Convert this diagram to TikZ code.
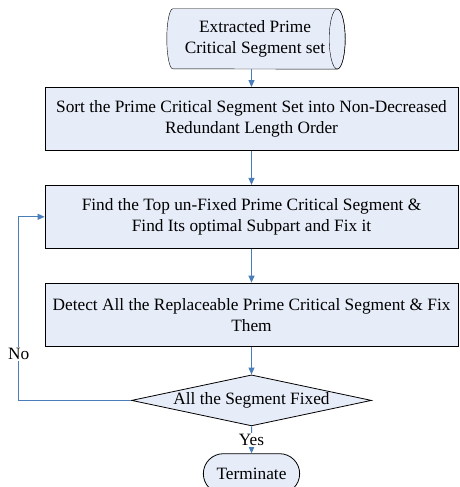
\documentclass[tikz,border=0pt]{standalone}
\usepackage{fontspec}
\setmainfont{Liberation Serif}
\usetikzlibrary{arrows.meta,positioning,shapes.geometric,shapes.misc,backgrounds}

\definecolor{boxfill}{RGB}{230,236,248}
\definecolor{flowblue}{RGB}{74,126,187}

\begin{document}
\begin{tikzpicture}[
                        x=1pt, y=1pt,
                        ->,
                        >={Triangle[length=7pt,width=6pt]},
                        node distance=34pt,
                        font=\fontsize{17.3}{21}\selectfont
                    ]
                    \tikzstyle{block}=[draw=black,fill=boxfill,line width=0.8pt,align=center,
                                       minimum width=413pt,minimum height=63pt,inner sep=0pt]
                    \tikzstyle{store}=[align=center,minimum width=164pt,minimum height=60pt,inner sep=0pt]
                    \tikzstyle{decide}=[diamond,draw=black,fill=boxfill,line width=0.8pt,aspect=4.7,
                                        minimum width=240pt,minimum height=51pt,inner sep=0pt]
                    \tikzstyle{stop}=[rounded rectangle,draw=black,fill=boxfill,line width=0.8pt,
                                      minimum width=103pt,minimum height=40pt]
                    \tikzstyle{flow}=[draw=flowblue,line width=1pt]
                    \tikzstyle{tag}=[fill=white,inner sep=1pt]

                    \clip (0,0) rectangle (459,-487);

                    \node[store]  (A) at (255,-39)      {Extracted Prime\\Critical Segment set} ;
                    \node[block]  (B) at (251.5,-119)   {Sort the Prime Critical Segment Set into Non-Decreased\\Redundant Length Order} ;
                    \node[block]  (C) [below=of B]      {Find the Top un-Fixed Prime Critical Segment \&\\Find Its optimal Subpart and Fix it} ;
                    \node[block]  (D) [below=of C]      {Detect All the Replaceable Prime Critical Segment \& Fix\\Them} ;
                    \node[decide] (E) [below=28pt of D] {All the Segment Fixed} ;
                    \node[stop]   (F) [below=27pt of E] {Terminate} ;

                    % storage drum behind the first node
                    \begin{scope}[on background layer,-,draw=black,line width=0.8pt]
                        \filldraw[fill=boxfill] (A.north east) -- (A.north west)
                            arc[start angle=90,end angle=270,x radius=6,y radius=30]
                            -- (A.south east)
                            arc[start angle=-90,end angle=90,x radius=8,y radius=30] -- cycle ;
                        \draw (A.east) ellipse[x radius=8,y radius=30] ;
                    \end{scope}

                    \path[every edge/.style={flow}]
                    (A.south -| B.north) edge (B)
                    (B) edge (C)
                    (C) edge (D)
                    (D) edge (E)
                    (E) edge node[tag] {Yes} (F) ;

                    \draw[flow] (E.west) -- ++(-112.5,0) |- node[tag,pos=0.126] {No} (C.west) ;

                \end{tikzpicture}
\end{document}
